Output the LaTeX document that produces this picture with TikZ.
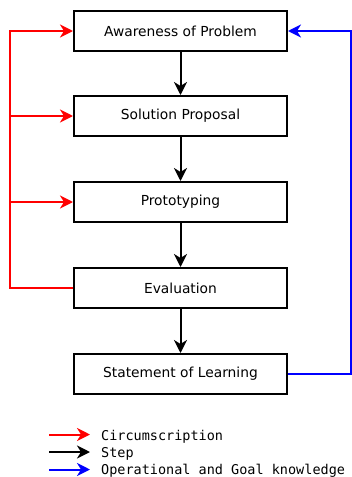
\documentclass[tikz,border=0pt]{standalone}
\usepackage{fontspec}
\setmainfont{DejaVu Sans}
\setmonofont{DejaVu Sans Mono}
\usetikzlibrary{arrows.meta}

\tikzset{
	stepbox/.style = {draw, line width=2pt, minimum width=213pt, minimum height=40pt,
		inner sep=0pt, font=\fontsize{13.8}{15}\selectfont},
	arr/.style = {line width=2pt, -{Stealth[length=13pt, width=13pt, inset=4pt]}},
	legtext/.style = {anchor=base west, inner sep=0pt, font=\ttfamily\fontsize{13.5}{15}\selectfont}
}

\begin{document}
\begin{tikzpicture}[x=1pt, y=-1pt]
		\useasboundingbox (0,0) rectangle (352,477);
		% the five steps
		\node[stepbox] (aware) at (180.5,31) {Awareness of Problem};
		\node[stepbox] (sol) at (180.5,116) {Solution Proposal};
		\node[stepbox] (proto) at (180.5,202) {Prototyping};
		\node[stepbox] (eval) at (180.5,288) {Evaluation};
		\node[stepbox] (learn) at (180.5,374) {Statement of Learning};
		\draw[arr] (aware) -- (sol);
		\draw[arr] (sol) -- (proto);
		\draw[arr] (proto) -- (eval);
		\draw[arr] (eval) -- (learn);
		% circumscription
		\coordinate (rl) at (10,0);
		\draw[arr, red] (eval.west) -| (rl |- aware.west) -- (aware.west);
		\draw[arr, red] (rl |- sol.west) -- (sol.west);
		\draw[arr, red] (rl |- proto.west) -- (proto.west);
		% operational and goal knowledge
		\coordinate (bl) at (350.5,0);
		\draw[arr, blue] (learn.east) -| (bl |- aware.east) -- (aware.east);
		% legend
		\node[legtext] (lcirc) at (101,440) {Circumscription};
		\node[legtext] (lstep) at (101,457) {Step};
		\node[legtext] (lgoal) at (101,474) {Operational and Goal knowledge};
		\coordinate (lc) at (49,434.5);
		\coordinate (ls) at (49,452);
		\coordinate (lg) at (49,469.5);
		\draw[arr, red] (lc) -- ++(41,0);
		\draw[arr] (ls) -- ++(41,0);
		\draw[arr, blue] (lg) -- ++(41,0);
	\end{tikzpicture}
\end{document}
